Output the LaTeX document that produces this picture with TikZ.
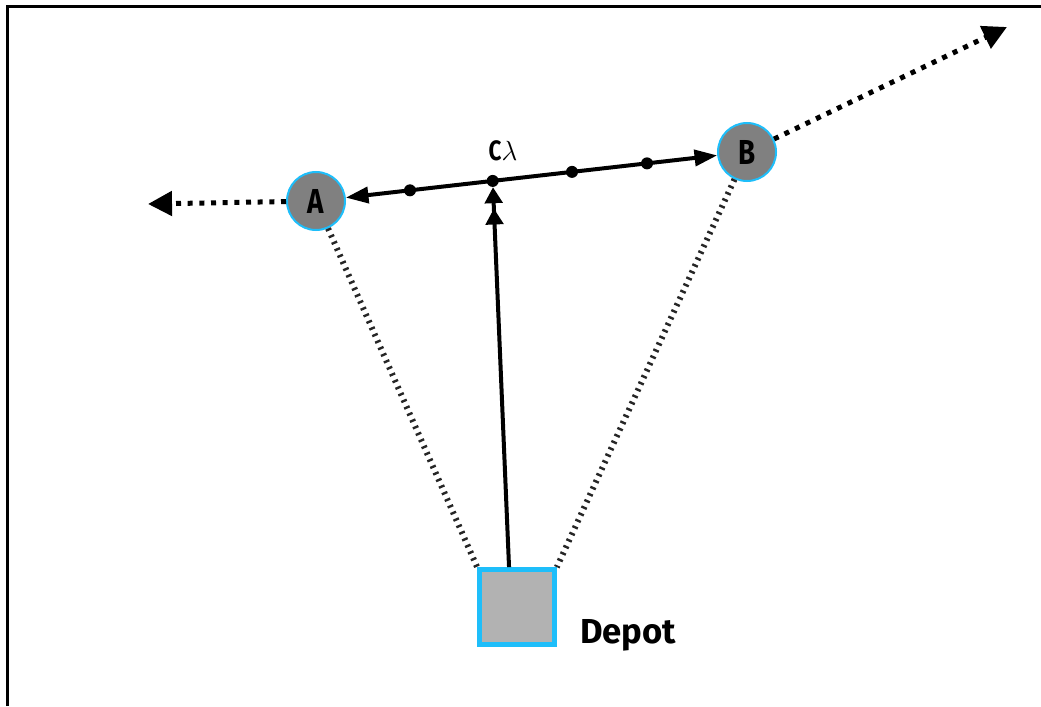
\documentclass[tikz,border=0pt]{standalone}
\usepackage{fontspec}
\setsansfont{Fira Sans}
\usetikzlibrary{arrows.meta,calc}
\definecolor{cyanb}{RGB}{30,190,250}
\definecolor{nodegray}{RGB}{128,128,128}
\definecolor{depgray}{RGB}{178,178,178}
\newcommand{\cond}[1]{\scalebox{0.8}[1]{#1}}
\begin{document}
\begin{tikzpicture}[x=0.75pt,y=-0.75pt,
  city/.style={circle,fill=nodegray,draw=cyanb,line width=1.5pt,minimum size=43.5pt,inner sep=0pt,
    font=\sffamily\bfseries\fontsize{26}{26}\selectfont},
  depotbox/.style={rectangle,fill=depgray,draw=cyanb,line width=3.75pt,minimum size=56pt,inner sep=0pt},
  dotpt/.style={circle,fill=black,minimum size=9pt,inner sep=0pt},
  route/.style={line width=3pt},
  blackdots/.style={line width=3.75pt,dash pattern=on 3.75pt off 5pt},
  graydots/.style={line width=4.5pt,dash pattern=on 1.8pt off 3.6pt,draw=black!85},
  lbl/.style={font=\sffamily\bfseries\fontsize{26}{26}\selectfont}
]
\useasboundingbox (0,0) rectangle (1041,706);
\draw[line width=2.25pt] (7,706) -- (7,7) -- (1041,7);

\node[city] (A) at (316,201) {\cond{A}};
\node[city] (B) at (747,152) {\cond{B}};
\node[depotbox] (D) at (517,607) {};
\node[lbl,anchor=base west,inner sep=0pt] (DL) at (580,643) {Depot};

\node[dotpt] (p1) at ($(A)!0.218!(B)$) {};
\node[dotpt] (C) at ($(A)!0.41!(B)$) {};
\node[dotpt] (p3) at ($(A)!0.594!(B)$) {};
\node[dotpt] (p4) at ($(A)!0.768!(B)$) {};
\node[font=\sffamily\bfseries\fontsize{21}{21}\selectfont,inner sep=0pt,anchor=base] (CL) at (503,161) {\cond{C}$\lambda$};

\coordinate (aw) at (148,204);
\coordinate (be) at (1007,27);
\coordinate (ds) at ($(D.north west)!0.4!(D.north east)$);

\draw[graydots] (A) -- (D.north west);
\draw[graydots] (B) -- (D.north east);

\draw[route,{Triangle[length=17pt,width=12pt]}-{Triangle[length=17pt,width=12pt]}] (A) -- (B);
\draw[route,-{Triangle[length=12pt,width=13pt,sep=4pt]Triangle[length=12pt,width=13pt]}] (ds) -- (C);

\draw[blackdots,-{Triangle[length=18pt,width=18pt]}] (A) -- (aw);
\draw[blackdots,-{Triangle[length=18pt,width=18pt]}] (B) -- (be);
\end{tikzpicture}
\end{document}
